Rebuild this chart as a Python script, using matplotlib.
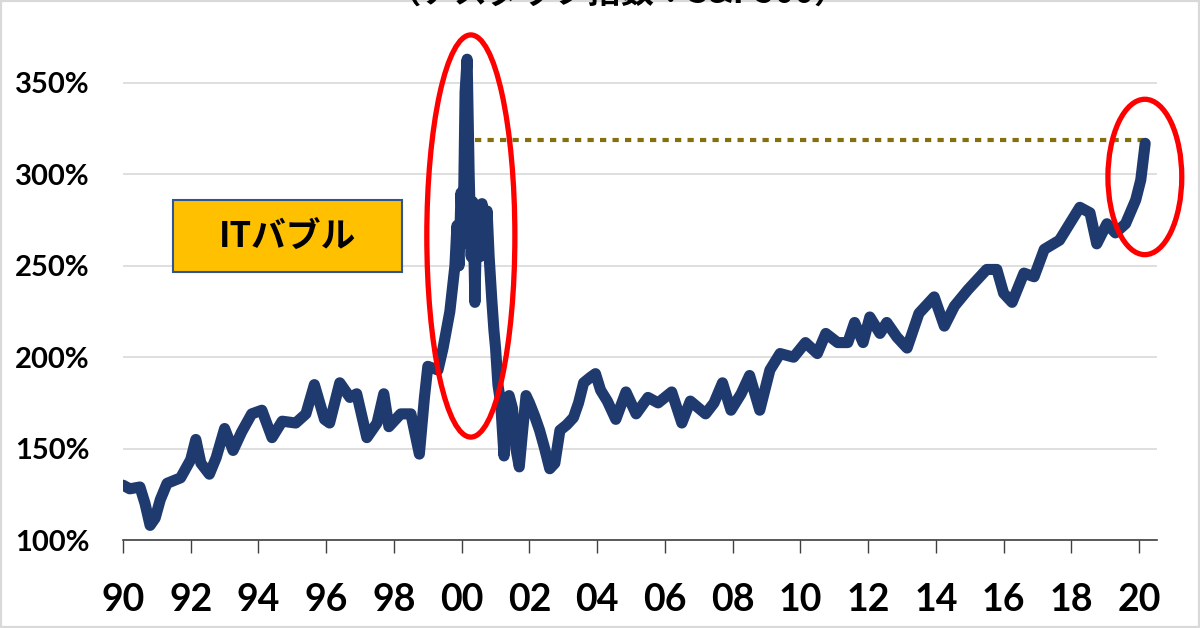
import matplotlib
matplotlib.use('Agg')
import matplotlib.pyplot as plt
from matplotlib.patches import Ellipse, Rectangle

# Nasdaq / S&P500 ratio (%)
years = [1990.0, 1990.2, 1990.5, 1990.65, 1990.8, 1990.95, 1991.1, 1991.3, 1991.7,
         1992.0, 1992.15, 1992.3, 1992.55, 1992.75, 1993.0, 1993.25, 1993.5, 1993.8,
         1994.1, 1994.4, 1994.7, 1995.1, 1995.4, 1995.65, 1995.95, 1996.1, 1996.4,
         1996.7, 1996.9, 1997.2, 1997.5, 1997.7, 1997.85, 1998.2, 1998.5, 1998.75,
         1998.9, 1999.0, 1999.3, 1999.45, 1999.65, 1999.8, 1999.86, 1999.92, 1999.98,
         2000.04, 2000.1, 2000.16, 2000.22, 2000.28, 2000.33, 2000.39, 2000.45,
         2000.54, 2000.6, 2000.69, 2000.75, 2000.81, 2000.89, 2000.95, 2001.0,
         2001.07, 2001.15, 2001.25, 2001.3, 2001.4, 2001.5, 2001.6, 2001.7, 2001.8,
         2001.9, 2002.0, 2002.15, 2002.3, 2002.45, 2002.6, 2002.75, 2002.9, 2003.1,
         2003.3, 2003.45, 2003.6, 2003.8, 2003.95, 2004.1, 2004.3, 2004.45, 2004.55,
         2004.85, 2005.15, 2005.5, 2005.8, 2006.2, 2006.5, 2006.75, 2007.2, 2007.45,
         2007.7, 2007.95, 2008.25, 2008.5, 2008.8, 2008.95, 2009.1, 2009.4, 2009.8,
         2010.15, 2010.5, 2010.75, 2011.1, 2011.4, 2011.6, 2011.85, 2012.05, 2012.35,
         2012.55, 2012.85, 2013.15, 2013.5, 2013.95, 2014.25, 2014.55, 2014.95, 2015.5,
         2015.8, 2016.0, 2016.25, 2016.6, 2016.9, 2017.2, 2017.65, 2017.95, 2018.25,
         2018.55, 2018.75, 2019.05, 2019.3, 2019.6, 2019.9, 2020.05, 2020.12, 2020.18]
ratio = [130, 128, 129, 120, 108, 112, 122, 131, 134,
         144, 155, 142, 136, 145, 161, 149, 159, 169,
         171, 156, 165, 164, 169, 185, 166, 164, 186,
         178, 180, 156, 164, 180, 162, 169, 169, 147,
         178, 195, 193, 205, 225, 250, 272, 250, 290,
         262, 345, 363, 300, 255, 285, 230, 280,
         255, 284, 268, 280, 255, 231, 215, 205,
         185, 175, 146, 170, 179, 172, 150, 140, 160,
         179, 175, 168, 160, 150, 139, 142, 160, 163,
         167, 175, 186, 189, 191, 182, 176, 170, 166,
         181, 169, 178, 175, 181, 164, 176, 169, 175,
         186, 171, 180, 190, 171, 182, 193, 202, 200,
         208, 202, 213, 208, 208, 219, 208, 222, 213,
         219, 211, 205, 224, 233, 217, 228, 237, 248,
         248, 235, 230, 246, 244, 259, 264, 273, 282,
         279, 262, 273, 268, 273, 286, 297, 308, 317]

yticks = [100, 150, 200, 250, 300, 350, 400]
xticks = list(range(1990, 2021, 2))
xlabels = ['%02d' % (y % 100) for y in xticks]
latest = 319  # level of the dotted reference line

navy = '#1F3A6E'

fig = plt.figure(figsize=(12, 6.28), dpi=100)
ax = fig.add_axes([0.1025, 0.1401, 0.8617, 0.8733])

ax.plot(years, ratio, color=navy, linewidth=8, solid_joinstyle='round',
        solid_capstyle='round', zorder=3)

# dotted line from the IT-bubble era to today's level
ax.plot([2000.4, 2020.18], [latest, latest], color='#85700F', linewidth=3,
        linestyle=(0, (1.5, 1.5)), dash_capstyle='butt', zorder=2)

ax.set_xlim(1990, 2020.53)
ax.set_ylim(100, 400)
ax.set_yticks(yticks)
ax.set_yticklabels(['%d%%' % v for v in yticks], fontfamily='Lato',
                   fontweight='bold', fontsize=21)
ax.set_xticks(xticks)
ax.set_xticklabels(xlabels, fontfamily='Lato', fontweight='bold', fontsize=27)
ax.tick_params(axis='y', length=0, pad=24)
ax.tick_params(axis='x', direction='out', length=9, width=1, color='#404040', pad=22)

ax.grid(axis='y', color='#D9D9D9', linewidth=1.2)
ax.set_axisbelow(True)
for s in ['top', 'right', 'left']:
    ax.spines[s].set_visible(False)
ax.spines['bottom'].set_color('#404040')
ax.spines['bottom'].set_linewidth(1.2)

# red circles
ax.add_patch(Ellipse((2000.27, 266.3), 2.6, 220, fill=False, edgecolor='red',
                     linewidth=3.8, zorder=4))
ax.add_patch(Ellipse((2020.17, 298.6), 2.18, 85, fill=False, edgecolor='red',
                     linewidth=3.8, zorder=4, clip_on=False))

# IT bubble label box
ax.add_patch(Rectangle((1991.48, 246.6), 6.76, 39.4, facecolor='#FFC000',
                       edgecolor='#2F5597', linewidth=1.5, zorder=4))
ax.text(1994.85, 266.3, 'ITバブル', ha='center', va='center', fontsize=25,
        fontweight='bold', family=['Noto Sans CJK JP', 'DejaVu Sans'], zorder=5)

# title, mostly cut off at the top of the picture
fig.text(0.515, 0.983, '（ナスダック指数÷S&P500）', ha='center', va='bottom',
         fontsize=24, fontweight='bold', family=['Noto Sans CJK JP', 'DejaVu Sans'])

fig.add_artist(Rectangle((0, 0), 1, 1, transform=fig.transFigure, fill=False,
                         edgecolor='#D9D9D9', linewidth=3))

fig.savefig('out.png', dpi=100)
